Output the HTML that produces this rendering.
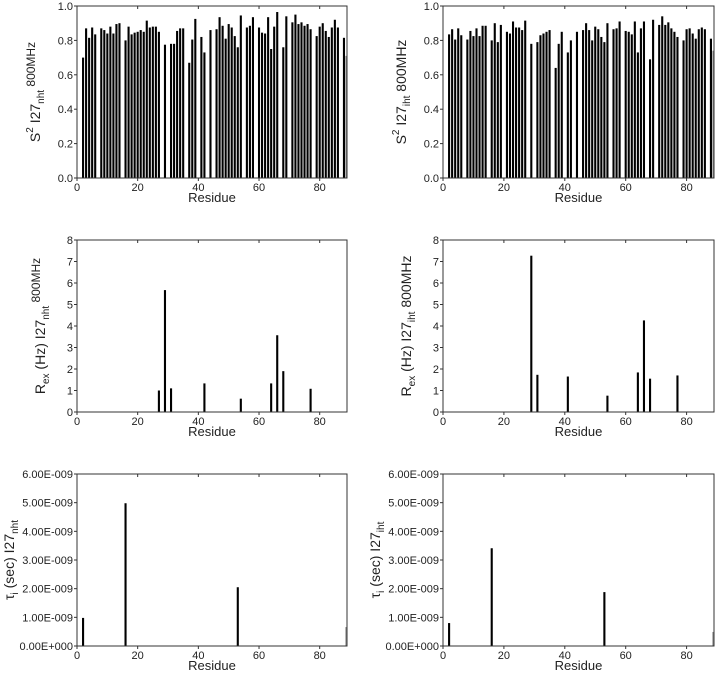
<!DOCTYPE html>
<html><head><meta charset="utf-8"><style>
body{margin:0;background:#fff;width:717px;height:675px;overflow:hidden}
svg{display:block;font-family:"Liberation Sans",sans-serif}
</style></head><body>
<svg id="fig" width="717" height="675"></svg>
<script>
const s2NhtRes=[2,3,4,5,6,8,9,10,11,12,13,14,16,17,18,19,20,21,22,23,24,25,26,27,29,31,32,33,34,35,37,38,39,41,42,44,46,47,48,49,50,51,52,53,54,56,57,58,60,61,62,63,64,65,66,68,69,71,72,73,74,75,76,77,79,80,81,82,83,84,85,86,88,89];
const s2NhtVal=[0.70,0.87,0.815,0.875,0.835,0.87,0.86,0.84,0.88,0.84,0.895,0.90,0.80,0.88,0.835,0.845,0.85,0.86,0.85,0.915,0.875,0.88,0.88,0.85,0.775,0.78,0.78,0.855,0.87,0.87,0.67,0.805,0.925,0.82,0.73,0.86,0.865,0.935,0.885,0.81,0.895,0.875,0.825,0.76,0.945,0.875,0.885,0.935,0.875,0.845,0.84,0.935,0.75,0.88,0.965,0.76,0.94,0.905,0.95,0.895,0.905,0.885,0.895,0.865,0.825,0.88,0.90,0.855,0.82,0.875,0.92,0.875,0.815,0.71];
const s2IhtRes=[2,3,4,5,6,8,9,10,11,12,13,14,16,17,18,19,21,22,23,24,25,26,27,29,31,32,33,34,35,37,38,39,41,42,44,46,47,48,49,50,51,52,53,54,56,57,58,60,61,62,63,64,65,66,68,69,71,72,73,74,75,76,77,79,80,81,82,83,84,85,86,88,89];
const s2IhtVal=[0.835,0.865,0.805,0.87,0.83,0.805,0.855,0.825,0.87,0.825,0.885,0.885,0.80,0.90,0.79,0.89,0.85,0.84,0.91,0.875,0.875,0.86,0.915,0.78,0.79,0.83,0.84,0.85,0.86,0.64,0.78,0.85,0.73,0.80,0.85,0.86,0.90,0.86,0.80,0.88,0.865,0.82,0.79,0.90,0.865,0.87,0.91,0.855,0.85,0.835,0.91,0.73,0.87,0.91,0.69,0.92,0.89,0.94,0.89,0.905,0.87,0.85,0.82,0.80,0.865,0.87,0.84,0.81,0.865,0.875,0.865,0.81,0.74];
const rexNhtRes=[27,29,31,42,54,64,66,68,77];
const rexNhtVal=[1.0,5.67,1.1,1.33,0.62,1.33,3.57,1.9,1.08];
const rexIhtRes=[29,31,41,54,64,66,68,77];
const rexIhtVal=[7.27,1.73,1.65,0.76,1.84,4.26,1.55,1.70];
const tauNhtRes=[2,16,29,30,31,53,89];
const tauNhtVal=[0.98,4.98,0.01,0.01,0.01,2.05,0.66];
const tauIhtRes=[2,16,29,30,31,53,89];
const tauIhtVal=[0.80,3.41,0.01,0.01,0.01,1.88,0.49];
const xTicks=[0,20,40,60,80];
const s2Ticks=["0.0","0.2","0.4","0.6","0.8","1.0"];
const rexTicks=["0","1","2","3","4","5","6","7","8"];
const tauTicks=["0.00E+000","1.00E-009","2.00E-009","3.00E-009","4.00E-009","5.00E-009","6.00E-009"];

const NS="http://www.w3.org/2000/svg";
const svg=document.getElementById('fig');
function mk(tag,attrs,parent){const e=document.createElementNS(NS,tag);for(const k in attrs)e.setAttribute(k,attrs[k]);(parent||svg).appendChild(e);return e;}

function panel(o){
  const g=mk('g',{});
  
  
  const x=v=>o.x0+(v-0)/(89)*(o.x1-o.x0);
  const y=v=>o.y1-v/o.ymax*(o.y1-o.y0);
  // bars
  o.res.forEach((r,i)=>{
    const v=o.vals[i];
    const gray=r>=89;
    const w=gray?1.6:2.1;
    const bx=gray?o.x1-w:x(r)-w/2;
    const b=mk('rect',{x:bx,y:y(v),width:w,height:Math.max(0.6,y(0)-y(v)),fill:gray?'#888':'#000'},g);
    
    
  });
  // frame
  const f=mk('rect',{x:o.x0,y:o.y0,width:o.x1-o.x0,height:o.y1-o.y0,fill:'none',stroke:'#333','stroke-width':1},g);
  
  
  // x ticks
  xTicks.forEach(t=>{
    const tx=x(t);
    mk('line',{x1:tx,x2:tx,y1:o.y1,y2:o.y1+3,stroke:'#333'},g);
    mk('line',{x1:tx,x2:tx,y1:o.y0,y2:o.y0+3,stroke:'#333'},g);
    const tl=mk('text',{x:tx,y:o.y1+13,'font-size':11,'text-anchor':'middle',fill:'#222'},g);
    tl.textContent=t;
    
    
  });
  // y ticks
  o.yt.forEach((lab,i)=>{
    const v=i*o.ystep, ty=y(v);
    mk('line',{x1:o.x0-3,x2:o.x0,y1:ty,y2:ty,stroke:'#333'},g);
    const tl=mk('text',{x:o.x0-4,y:ty+4,'font-size':11,'text-anchor':'end',fill:'#222'},g);
    tl.textContent=lab;
    
    
  });
  const xl=mk('text',{x:(o.x0+o.x1)/2,y:o.y1+24,'font-size':13,'text-anchor':'middle',fill:'#222'},g);
  xl.textContent='Residue';
  
  
  const yl=mk('text',{transform:`translate(${o.tx},${(o.y0+o.y1)/2}) rotate(-90)`,'font-size':14,'text-anchor':'middle',fill:'#222'},g);
  yl.innerHTML=o.title;
  
  
}
const L={x0:77,x1:347}, R={x0:443,x1:714};
panel({name:'s2-nht-panel',...L,y0:6,y1:178,ymax:1,ystep:0.2,yt:s2Ticks,res:s2NhtRes,vals:s2NhtVal,tx:40,
  title:'S<tspan dy="-7" font-size="10">2</tspan><tspan dy="7"> I27</tspan><tspan dy="4" font-size="10">nht</tspan><tspan dy="-9" font-size="12"> 800MHz</tspan>'});
panel({name:'s2-iht-panel',...R,y0:6,y1:178,ymax:1,ystep:0.2,yt:s2Ticks,res:s2IhtRes,vals:s2IhtVal,tx:406,
  title:'S<tspan dy="-7" font-size="10">2</tspan><tspan dy="7"> I27</tspan><tspan dy="4" font-size="10">iht</tspan><tspan dy="-4"> 800MHz</tspan>'});
panel({name:'rex-nht-panel',...L,y0:240,y1:412,ymax:8,ystep:1,yt:rexTicks,res:rexNhtRes,vals:rexNhtVal,tx:45,
  title:'R<tspan dy="4" font-size="10">ex</tspan><tspan dy="-4"> (Hz) I27</tspan><tspan dy="4" font-size="10">nht</tspan><tspan dy="-9" font-size="12"> 800MHz</tspan>'});
panel({name:'rex-iht-panel',...R,y0:240,y1:412,ymax:8,ystep:1,yt:rexTicks,res:rexIhtRes,vals:rexIhtVal,tx:411,
  title:'R<tspan dy="4" font-size="10">ex</tspan><tspan dy="-4"> (Hz) I27</tspan><tspan dy="4" font-size="10">iht</tspan><tspan dy="-4"> 800MHz</tspan>'});
panel({name:'tau-nht-panel',...L,y0:474,y1:646,ymax:6,ystep:1,yt:tauTicks,res:tauNhtRes,vals:tauNhtVal,tx:14,
  title:'τ<tspan dy="4" font-size="10">i</tspan><tspan dy="-4"> (sec) I27</tspan><tspan dy="4" font-size="10">nht</tspan>'});
panel({name:'tau-iht-panel',...R,y0:474,y1:646,ymax:6,ystep:1,yt:tauTicks,res:tauIhtRes,vals:tauIhtVal,tx:380,
  title:'τ<tspan dy="4" font-size="10">i</tspan><tspan dy="-4"> (sec) I27</tspan><tspan dy="4" font-size="10">iht</tspan>'});
</script>
</body></html>
